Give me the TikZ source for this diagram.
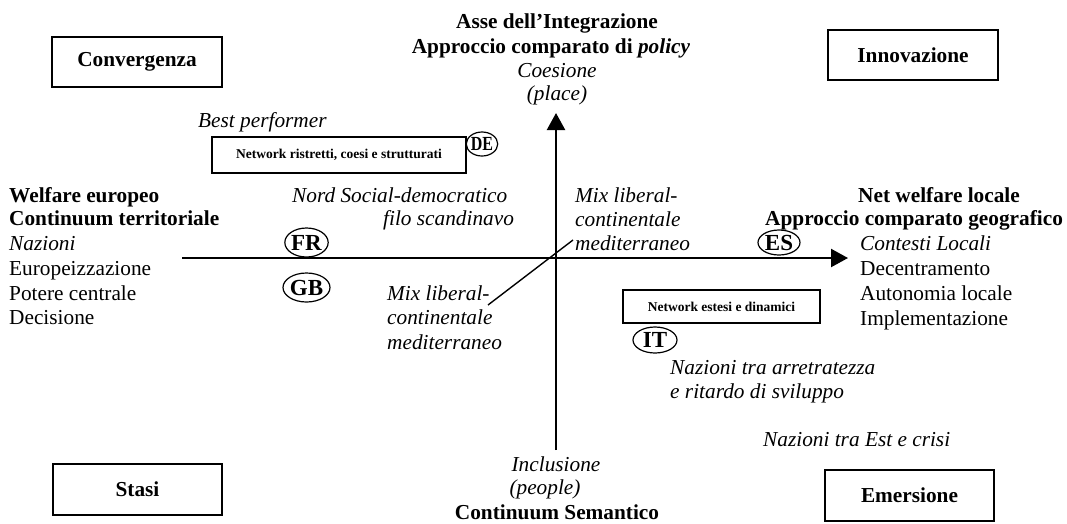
\documentclass[tikz,border=0pt]{standalone}
\usepackage{fontspec}
\usepackage{graphicx}
\setmainfont{Liberation Serif}
\usetikzlibrary{arrows.meta,shapes.geometric}
\begin{document}
\begin{tikzpicture}[x=1pt,y=-1pt,
  lbl/.style={inner sep=0pt, font=\fontsize{21.3}{24.5}\selectfont},
  quad/.style={draw, line width=1.5pt, minimum width=170pt, minimum height=50pt,
    inner sep=0pt, font=\fontsize{21.3}{24.5}\selectfont\bfseries},
  netbox/.style={draw, line width=1.5pt, inner sep=0pt,
    font=\fontsize{13.5}{15}\selectfont\bfseries},
  country/.style={draw, ellipse, line width=1.2pt, inner sep=0pt,
    font=\fontsize{23}{24}\selectfont\bfseries},
  axis/.style={line width=2.3pt, -{Triangle[length=17pt,width=18pt]}},
  diag/.style={line width=1.4pt}
]
\useasboundingbox (0,0) rectangle (1067,523);

% corner boxes
\node[quad] (conv) at (137,62) {Convergenza};
\node[quad] (inno) at (913,55) {Innovazione};
\node[quad, minimum width=169pt, minimum height=51pt] (stasi) at (137.5,489.5) {Stasi};
\node[quad, minimum width=169pt, minimum height=51pt] (emer) at (909.5,495.5) {Emersione};

% axes
\coordinate (hL) at (182,258);
\coordinate (hR) at (848,258);
\coordinate (vB) at (556,450);
\coordinate (vT) at (556,113);
\coordinate (dA) at (488,305);
\coordinate (dB) at (573,240);
\draw[axis] (hL) -- (hR);
\draw[axis] (vB) -- (vT);
\draw[diag] (dA) -- (dB);

% top labels
\node[lbl, anchor=base, font=\fontsize{21.3}{24.5}\selectfont\bfseries] (t1) at (557,28) {Asse dell’Integrazione};
\node[lbl, anchor=base, font=\fontsize{21.3}{24.5}\selectfont\bfseries] (t2) at (551,53) {Approccio comparato di \textit{policy}};
\node[lbl, anchor=base, font=\fontsize{21.3}{24.5}\selectfont\itshape] (t3) at (557,77) {Coesione};
\node[lbl, anchor=base, font=\fontsize{21.3}{24.5}\selectfont\itshape] (t4) at (557,100) {(place)};

% bottom labels
\node[lbl, anchor=base, font=\fontsize{21.3}{24.5}\selectfont\itshape] (b1) at (556,471) {Inclusione};
\node[lbl, anchor=base, font=\fontsize{21.3}{24.5}\selectfont\itshape] (b2) at (545,494) {(people)};
\node[lbl, anchor=base, font=\fontsize{21.3}{24.5}\selectfont\bfseries] (b3) at (557,519) {Continuum Semantico};

% left labels
\node[lbl, anchor=base west, font=\fontsize{21.3}{24.5}\selectfont\bfseries] (l1) at (9,202) {Welfare europeo};
\node[lbl, anchor=base west, font=\fontsize{21.3}{24.5}\selectfont\bfseries] (l2) at (9,225) {Continuum territoriale};
\node[lbl, anchor=base west, font=\fontsize{21.3}{24.5}\selectfont\itshape] (l3) at (9,250) {Nazioni};
\node[lbl, anchor=base west] (l4) at (9,275) {Europeizzazione};
\node[lbl, anchor=base west] (l5) at (9,300) {Potere centrale};
\node[lbl, anchor=base west] (l6) at (9,324) {Decisione};

% right labels
\node[lbl, anchor=base west, font=\fontsize{21.3}{24.5}\selectfont\bfseries] (r1) at (858,202) {Net welfare locale};
\node[lbl, anchor=base west, font=\fontsize{21.3}{24.5}\selectfont\bfseries] (r2) at (765,225) {Approccio comparato geografico};
\node[lbl, anchor=base west, font=\fontsize{21.3}{24.5}\selectfont\itshape] (r3) at (860,250) {Contesti Locali};
\node[lbl, anchor=base west] (r4) at (860,275) {Decentramento};
\node[lbl, anchor=base west] (r5) at (860,300) {Autonomia locale};
\node[lbl, anchor=base west] (r6) at (860,325) {Implementazione};

% welfare regimes
\begin{scope}[every node/.append style={lbl, anchor=base west, font=\fontsize{21.3}{24.5}\selectfont\itshape}]
\node (best) at (198,127) {Best performer};
\node (nord1) at (292,202) {Nord Social-democratico};
\node (nord2) at (383,225) {filo scandinavo};
\node (mixa1) at (575,202) {Mix liberal-};
\node (mixa2) at (575,226) {continentale};
\node (mixa3) at (575,250) {mediterraneo};
\node (mixb1) at (387,300) {Mix liberal-};
\node (mixb2) at (387,324) {continentale};
\node (mixb3) at (387,349) {mediterraneo};
\node (arr1) at (670,374) {Nazioni tra arretratezza};
\node (arr2) at (670,398) {e ritardo di sviluppo};
\node (est) at (763,446) {Nazioni tra Est e crisi};
\end{scope}

% network boxes
\node[netbox, minimum width=254pt, minimum height=36pt] (net1) at (339,155) {Network ristretti, coesi e strutturati};
\node[netbox, minimum width=197pt, minimum height=33pt] (net2) at (721.5,306.5) {Network estesi e dinamici};

% countries
\node[country, minimum width=31pt, minimum height=24pt, font=\fontsize{20}{22}\selectfont\bfseries] (de) at (482,144) {\scalebox{0.8}[1]{DE}};
\node[country, minimum width=43pt, minimum height=29pt] (fr) at (306.5,242.5) {FR};
\node[country, minimum width=43pt, minimum height=29pt] (gb) at (306.5,287.5) {GB};
\node[country, minimum width=42pt, minimum height=25pt] (es) at (779,242.5) {ES};
\node[country, minimum width=44pt, minimum height=26pt] (it) at (655,340) {IT};
\end{tikzpicture}
\end{document}
